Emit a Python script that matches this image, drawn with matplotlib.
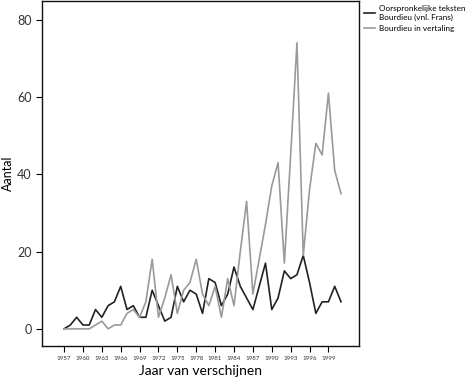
import numpy as np
import matplotlib
matplotlib.use("Agg")
import matplotlib.pyplot as plt

plt.rcParams['font.family'] = ['Lato', 'DejaVu Sans']

# jaren 1957-2001
years = list(range(1957, 2002))

# Oorspronkelijke teksten Bourdieu (vnl. Frans)
original = [0, 1, 3, 1, 1, 5, 3, 6, 7, 11,
            5, 6, 3, 3, 10, 6, 2, 3, 11, 7,
            10, 9, 4, 13, 12, 6, 9, 16, 11, 8,
            5, 11, 17, 5, 8, 15, 13, 14, 19, 12,
            4, 7, 7, 11, 7]

# Bourdieu in vertaling
translated = [0, 0, 0, 0, 0, 1, 2, 0, 1, 1,
              4, 5, 3, 7, 18, 3, 8, 14, 4, 10,
              12, 18, 9, 6, 11, 3, 13, 6, 20, 33,
              9, 18, 27, 37, 43, 17, 45, 74, 19, 36,
              48, 45, 61, 41, 35]

xticks = list(range(1957, 2000, 3))
yticks = [0, 20, 40, 60, 80]


def main():
    fig = plt.figure(figsize=(4.7, 3.78), dpi=100)
    ax = fig.add_axes([0.0894, 0.085, 0.675, 0.913])

    ax.plot(years, original, color='#222222', linewidth=1.2,
            label='Oorspronkelijke teksten\nBourdieu (vnl. Frans)')
    ax.plot(years, translated, color='#9a9a9a', linewidth=1.2,
            label='Bourdieu in vertaling')

    ax.set_xlim(1953.5, 2003.9)
    ax.set_ylim(-4.4, 84.9)
    ax.set_xticks(xticks)
    ax.set_xticklabels([str(y) for y in xticks], fontsize=4.5, color='#333333')
    ax.set_yticks(yticks)
    ax.set_yticklabels([str(y) for y in yticks], fontsize=9, color='#333333')
    ax.tick_params(direction='out', length=4, width=0.8)

    for s in ax.spines.values():
        s.set_linewidth(1.0)
        s.set_color('#111111')

    ax.set_xlabel("Jaar van verschijnen", fontsize=10, labelpad=3)
    ax.set_ylabel("Aantal", fontsize=9, labelpad=2)

    ax.legend(loc='upper left', bbox_to_anchor=(1.0, 1.0), frameon=False,
              prop={'family': ['Liberation Sans Narrow', 'Lato'], 'size': 5.9},
              handlelength=1.4, handletextpad=0.4,
              borderaxespad=0.15, labelspacing=0.5)

    plt.savefig('out.png', dpi=100)


if __name__ == '__main__':
    main()
